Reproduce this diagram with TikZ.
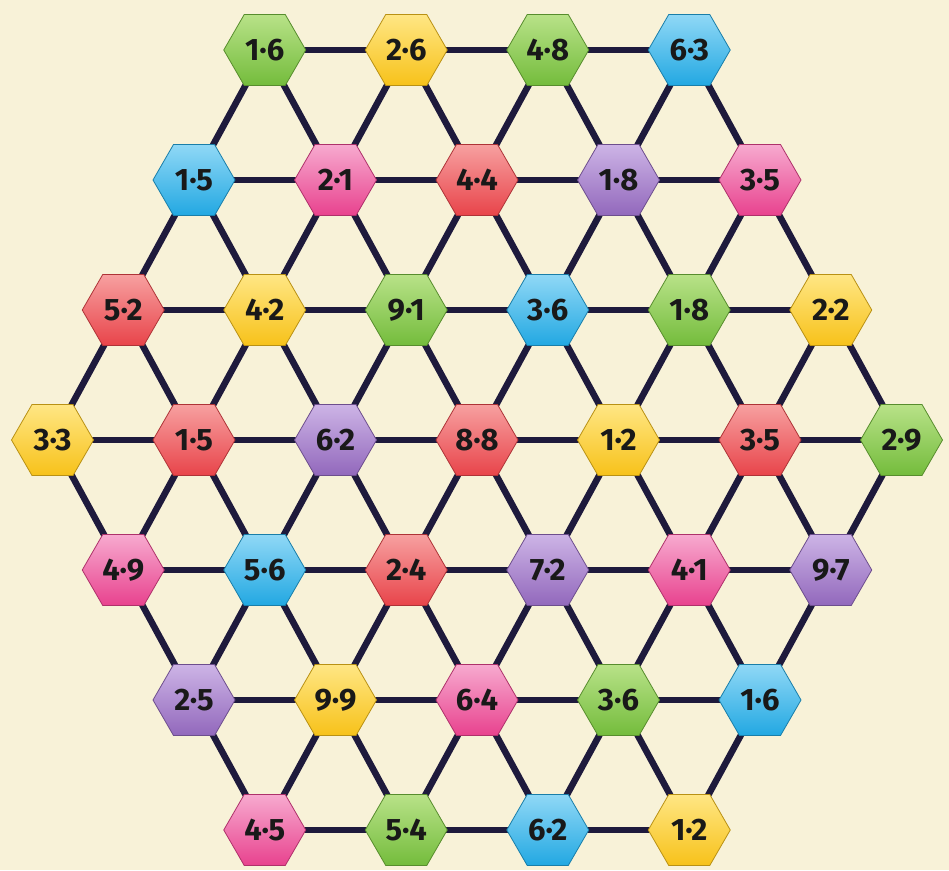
\documentclass[tikz,border=0pt]{standalone}
\usepackage{fontspec}
\setmainfont{Fira Sans}
\usetikzlibrary{shapes.geometric,backgrounds}
\definecolor{bgc}{HTML}{F8F2D8}
\definecolor{edgec}{HTML}{1E1A3C}
\definecolor{greenB}{HTML}{74BC3C}\definecolor{greenL}{HTML}{B8E288}
\definecolor{yellowB}{HTML}{F7C21A}\definecolor{yellowL}{HTML}{FFE684}
\definecolor{blueB}{HTML}{22A8E2}\definecolor{blueL}{HTML}{90D8F6}
\definecolor{pinkB}{HTML}{E8428E}\definecolor{pinkL}{HTML}{F7AACF}
\definecolor{redB}{HTML}{E8444A}\definecolor{redL}{HTML}{F7A0A0}
\definecolor{purpleB}{HTML}{9268BC}\definecolor{purpleL}{HTML}{CDB4E6}
\tikzset{
  hexnode/.style={regular polygon, regular polygon sides=6, minimum size=82pt,
    inner sep=0pt, draw=#1B!75!black, line width=0.8pt,
    top color=#1L, bottom color=#1B, shading angle=0,
    text=black!90, font=\fontsize{31}{31}\selectfont\bfseries},
  edge/.style={draw=edgec, line width=6.5pt}
}
\begin{document}
\begin{tikzpicture}[x=1pt,y=1pt]
\useasboundingbox (0,0) rectangle (949,870);
\foreach \i/\lst in {
  1/{green/1·6,yellow/2·6,green/4·8,blue/6·3},
  2/{blue/1·5,pink/2·1,red/4·4,purple/1·8,pink/3·5},
  3/{red/5·2,yellow/4·2,green/9·1,blue/3·6,green/1·8,yellow/2·2},
  4/{yellow/3·3,red/1·5,purple/6·2,red/8·8,yellow/1·2,red/3·5,green/2·9},
  5/{pink/4·9,blue/5·6,red/2·4,purple/7·2,pink/4·1,purple/9·7},
  6/{purple/2·5,yellow/9·9,pink/6·4,green/3·6,blue/1·6},
  7/{pink/4·5,green/5·4,blue/6·2,yellow/1·2}}{
  \pgfmathtruncatemacro\n{7-abs(\i-4)}
  \foreach \c/\t [count=\j] in \lst {
    \pgfmathsetmacro\xx{477+(\j-(\n+1)/2)*141.5}
    \pgfmathsetmacro\yy{870-(50+(\i-1)*130)}
    \node[hexnode=\c] (r\i-\j) at (\xx,\yy) {\t};
  }
}
\begin{pgfonlayer}{background}
\fill[bgc] (0,0) rectangle (949,870);
\foreach \i in {1,...,7}{
  \pgfmathtruncatemacro\n{7-abs(\i-4)}
  \pgfmathtruncatemacro\nm{\n-1}
  \foreach \j in {1,...,\nm}{
    \pgfmathtruncatemacro\jj{\j+1}
    \draw[edge] (r\i-\j.center) -- (r\i-\jj.center);
  }
}
\foreach \i in {1,2,3}{
  \pgfmathtruncatemacro\n{\i+3}
  \pgfmathtruncatemacro\ii{\i+1}
  \foreach \j in {1,...,\n}{
    \pgfmathtruncatemacro\jj{\j+1}
    \draw[edge] (r\i-\j.center) -- (r\ii-\j.center);
    \draw[edge] (r\i-\j.center) -- (r\ii-\jj.center);
  }
}
\foreach \i in {4,5,6}{
  \pgfmathtruncatemacro\n{11-\i}
  \pgfmathtruncatemacro\nm{\n-1}
  \pgfmathtruncatemacro\ii{\i+1}
  \foreach \j in {2,...,\n}{
    \pgfmathtruncatemacro\jm{\j-1}
    \draw[edge] (r\i-\j.center) -- (r\ii-\jm.center);
  }
  \foreach \j in {1,...,\nm}{
    \draw[edge] (r\i-\j.center) -- (r\ii-\j.center);
  }
}
\end{pgfonlayer}
\end{tikzpicture}
\end{document}
